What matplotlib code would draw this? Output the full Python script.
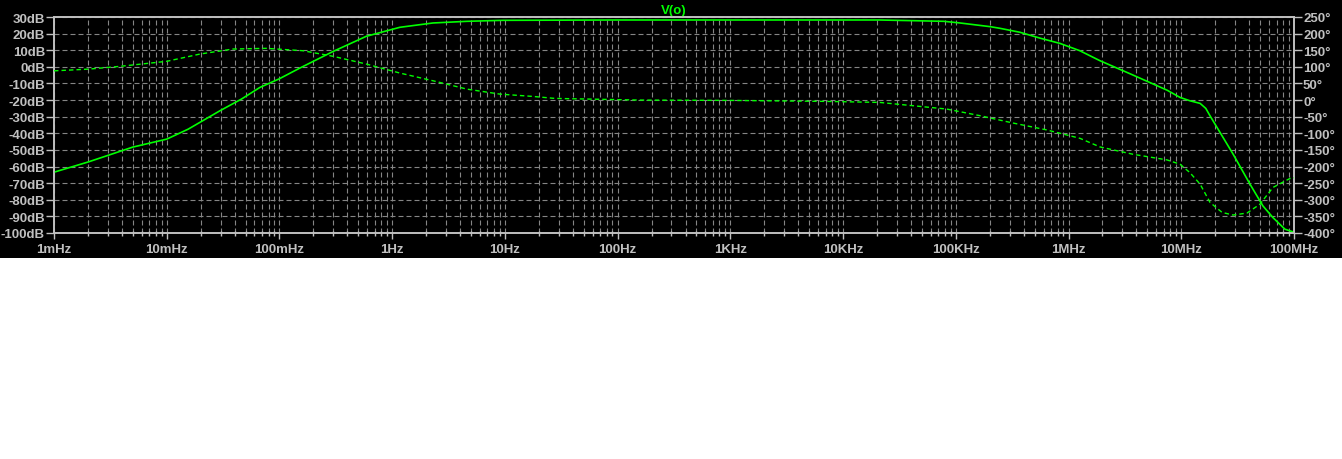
import matplotlib
matplotlib.use('Agg')
import matplotlib.pyplot as plt
from matplotlib.patches import Rectangle
from matplotlib.ticker import FixedLocator, LogLocator, NullFormatter

# magnitude trace, V(o) in dB
mag_freq = [1e-3, 2e-3, 5e-3, 10e-3, 15.5e-3, 29.7e-3, 46e-3, 67e-3, 99e-3, 0.152,
            0.30, 0.59, 1.17, 2.3, 4.6, 9.6, 100, 1000, 10e3, 21e3, 78.5e3, 109e3,
            201e3, 246e3, 371e3, 557e3, 840e3, 1.26e6, 1.9e6, 3.72e6, 7.46e6,
            9.75e6, 11.9e6, 14.7e6, 16.5e6, 18e6, 28.8e6, 40.7e6, 53e6, 65e6, 83e6, 98e6, 100e6]
mag_db = [-63.4, -57.3, -48.3, -43.5, -37.5, -26.4, -19.4, -12.4, -7.3, -0.7,
          9.3, 18.4, 23.8, 26.4, 27.4, 28.0, 28.2, 28.2, 28.2, 28.2, 27.4, 26.4,
          24.2, 23.2, 20.8, 17.3, 14.1, 9.7, 3.7, -4.9, -14.0,
          -18.4, -20.4, -22.0, -25.0, -29.5, -52.5, -70.6, -83.7, -90.7, -97.7, -99.3, -99.5]

# phase trace, degrees
ph_freq = [1e-3, 2e-3, 3.85e-3, 10e-3, 19.7e-3, 38.7e-3, 76e-3, 0.162, 0.30, 0.59,
           1.17, 2.3, 4.6, 9.0, 17.7, 27.8, 158, 1000, 7.2e3, 21e3, 41.7e3, 83e3,
           164e3, 321e3, 644e3, 1.26e6, 1.9e6, 3.72e6, 7.46e6, 9.75e6, 11.9e6,
           14.7e6, 18e6, 23e6, 28.8e6, 38.3e6, 50e6, 65e6, 92e6, 100e6]
ph_deg = [88, 93, 101.5, 116.6, 138.5, 153.6, 155.7, 148.5, 131.6, 108.4,
          81.3, 58.1, 33, 18, 11, 5, 0, -1, -4, -7, -17, -27,
          -47, -69, -90, -115, -141, -163, -180, -193, -218,
          -253, -308, -338, -346, -340, -313, -263, -236, -234]

x_ticks = [1e-3, 1e-2, 1e-1, 1, 10, 100, 1e3, 1e4, 1e5, 1e6, 1e7, 1e8]
x_labels = ['1mHz', '10mHz', '100mHz', '1Hz', '10Hz', '100Hz', '1KHz', '10KHz',
            '100KHz', '1MHz', '10MHz', '100MHz']
db_ticks = list(range(-100, 31, 10))
deg_ticks = list(range(-400, 251, 50))

green = '#00ff00'
grey = '#c0c0c0'
gridc = '#858585'
font = {'family': 'Liberation Sans', 'weight': 'bold', 'size': 9.5}

fig = plt.figure(figsize=(13.42, 4.60), dpi=100, facecolor='white')
# black panel behind the plot (lower part of the image stays white)
bg = Rectangle((0, 1 - 259 / 460), 1, 259 / 460, transform=fig.transFigure,
               facecolor='black', edgecolor='none', zorder=-10)
fig.add_artist(bg)

ax = fig.add_axes([54 / 1342, (460 - 234) / 460, 1240 / 1342, 216 / 460])
ax.set_facecolor('black')
ax.set_xscale('log')
ax.set_xlim(1e-3, 1e8)
ax.set_ylim(-100, 30)

ax2 = ax.twinx()
ax2.set_ylim(-400, 250)

ax.plot(mag_freq, mag_db, color=green, lw=1.2, zorder=5)
ax2.plot(ph_freq, ph_deg, color=green, lw=1.0, linestyle=(0, (3.2, 2.2)), zorder=5)

ax.xaxis.set_major_locator(FixedLocator(x_ticks))
ax.xaxis.set_minor_locator(LogLocator(base=10, subs=range(2, 10), numticks=50))
ax.xaxis.set_minor_formatter(NullFormatter())
ax.set_xticklabels(x_labels, **font)
ax.set_yticks(db_ticks)
ax.set_yticklabels(['%ddB' % v for v in db_ticks], **font)
ax2.set_yticks(deg_ticks)
ax2.set_yticklabels(['%d°' % v for v in deg_ticks], **font)

ax.grid(True, which='both', axis='x', color=gridc, linestyle=(0, (4.5, 2.7)), lw=0.8)
ax.grid(True, which='major', axis='y', color=gridc, linestyle=(0, (4.5, 2.7)), lw=0.8)

for a in (ax, ax2):
    for s in a.spines.values():
        s.set_color(grey)
        s.set_linewidth(1.2)
ax.tick_params(axis='y', which='major', colors=grey, length=5.5, width=1, direction='out', pad=1)
ax.tick_params(axis='x', which='major', colors=grey, length=4.5, width=1, direction='out', pad=3)
ax.tick_params(axis='x', which='minor', colors=grey, length=3.6, width=1, direction='inout')
ax2.tick_params(axis='y', colors=grey, length=5.5, width=1, direction='out', pad=1)

ax.set_title('V(o)', color=green, pad=3, **font)

fig.savefig('out.png', dpi=100, facecolor='white')
